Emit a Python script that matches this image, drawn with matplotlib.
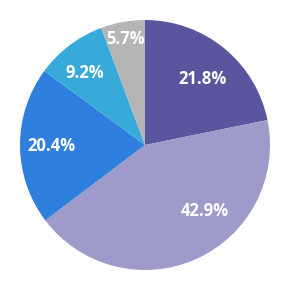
import numpy as np
import matplotlib
matplotlib.use("Agg")
import matplotlib.pyplot as plt

labels = ["A", "B", "C", "D", "E"]
values = [21.8, 42.9, 20.4, 9.2, 5.7]
colors = ["#5A569E", "#9E9BCA", "#2F80DE", "#38AADA", "#B5B5B5"]

# label placement (fraction of radius, angle shift in degrees)
label_dist = [0.70, 0.71, 0.75, 0.75, 0.86]
label_shift = [-2, 18, 0, 3, 0]

fig = plt.figure(figsize=(2.87, 2.87), dpi=100)
ax = fig.add_axes([20 / 287, 17 / 287, 250 / 287, 250 / 287])

wedges, texts = ax.pie(
    values, colors=colors, startangle=90, counterclock=False,
    radius=1.0, wedgeprops=dict(linewidth=0),
)
for w, v, d, s in zip(wedges, values, label_dist, label_shift):
    ang = np.deg2rad((w.theta1 + w.theta2) / 2 + s)
    ax.text(d * np.cos(ang), d * np.sin(ang), f"{v:.1f}%", ha="center", va="center",
            color="white", fontsize=12, fontweight="bold", family="Open Sans")

ax.set_xlim(-1, 1)
ax.set_ylim(-1, 1)
ax.set_aspect("equal")
ax.axis("off")

fig.savefig("out.png", dpi=100)
